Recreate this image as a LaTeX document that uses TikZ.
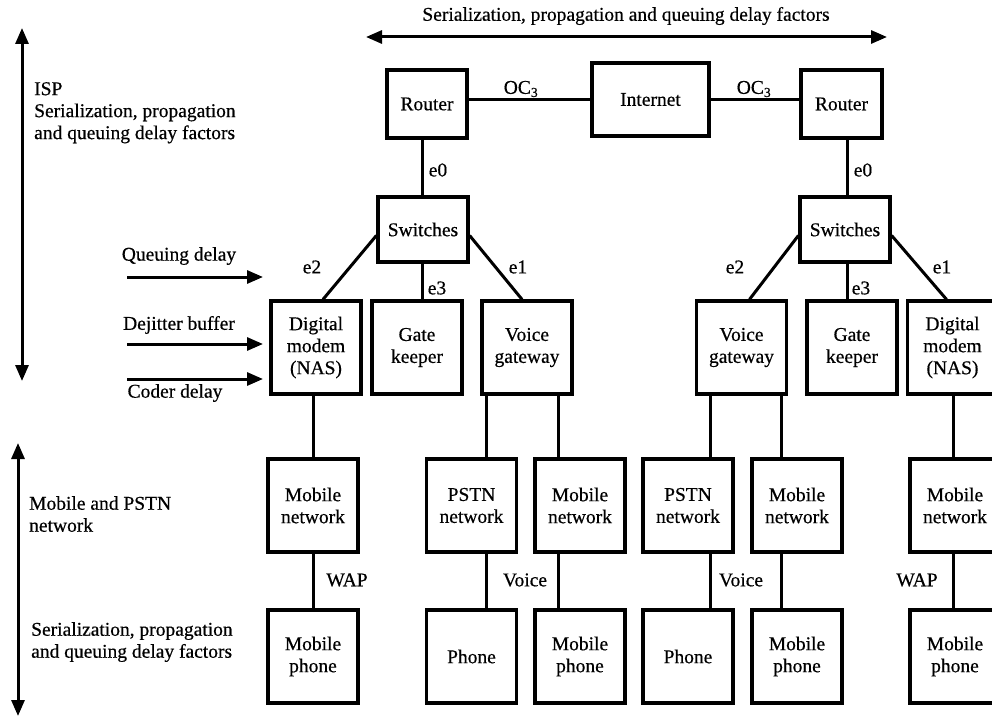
\documentclass[tikz,border=0pt]{standalone}
\usepackage{fontspec}
\setmainfont{Liberation Serif}[FakeBold=0.5]
\usetikzlibrary{arrows.meta,calc}

\tikzset{
  unit/.style={draw, line width=3.2pt, inner sep=0pt, align=center,
               minimum width=90pt, minimum height=93pt},
  link/.style={line width=3pt},
  lbl/.style={inner sep=0pt},
  flow/.style={line width=3pt, -{Triangle[length=16pt,width=13pt]}},
  span/.style={line width=3pt, {Triangle[length=16pt,width=13pt]}-{Triangle[length=16pt,width=13pt]}},
}

\begin{document}
\begin{tikzpicture}[x=1pt, y=-1pt,
  font=\fontsize{19.5}{22}\selectfont]
\useasboundingbox (0,0) rectangle (992,717);

% ---- core: routers, internet, switches
\node[unit, minimum width=80pt, minimum height=68pt] (R1) at (427,104) {Router};
\node[unit, minimum width=117pt, minimum height=73pt] (NET) at (650.5,99.5) {Internet};
\node[unit, minimum width=81pt, minimum height=68pt] (R2) at (841.5,104) {Router};
\node[unit, minimum width=90pt, minimum height=65pt] (S1) at (423,229.5) {Switches};
\node[unit, minimum width=90pt, minimum height=65pt] (S2) at (845,229.5) {Switches};

% ---- access devices
\node[unit] (DM1) at (316,347.5) {Digital\\modem\\(NAS)};
\node[unit] (GK1) at (417,347.5) {Gate\\keeper};
\node[unit] (VG1) at (527,347.5) {Voice\\gateway};
\node[unit] (VG2) at (741.5,347.5) {Voice\\gateway};
\node[unit] (GK2) at (852,347.5) {Gate\\keeper};
\node[unit] (DM2) at (952.5,347.5) {Digital\\modem\\(NAS)};

% ---- carrier networks
\node[unit] (MN1) at (313,505.5) {Mobile\\network};
\node[unit] (PN1) at (471.5,505.5) {PSTN\\network};
\node[unit] (MN2) at (580,505.5) {Mobile\\network};
\node[unit] (PN2) at (688,505.5) {PSTN\\network};
\node[unit] (MN3) at (797,505.5) {Mobile\\network};
\node[unit] (MN4) at (955,505.5) {Mobile\\network};

% ---- terminals
\node[unit] (MP1) at (313,656.5) {Mobile\\phone};
\node[unit] (PH1) at (471.5,656.5) {Phone};
\node[unit] (MP2) at (580,656.5) {Mobile\\phone};
\node[unit] (PH2) at (688,656.5) {Phone};
\node[unit] (MP3) at (797,656.5) {Mobile\\phone};
\node[unit] (MP4) at (955,656.5) {Mobile\\phone};

% ---- vertical drop positions
\coordinate (xa) at (313,0);
\coordinate (xb) at (486,0);
\coordinate (xc) at (558,0);
\coordinate (xd) at (710,0);
\coordinate (xe) at (781,0);
\coordinate (xf) at (953,0);
\coordinate (xs1) at (422,0);
\coordinate (xs2) at (847,0);

% ---- links
\draw[link] (NET.west) -- (NET.west -| R1.east);
\draw[link] (NET.east) -- (NET.east -| R2.west);
\draw[link] (R1.south -| xs1) -- (S1.north -| xs1);
\draw[link] (R2.south -| xs2) -- (S2.north -| xs2);

\draw[link] ([yshift=-6pt]S1.west) -- ([xshift=7pt]DM1.north);
\draw[link] (S1.south -| xs1) -- (GK1.north -| xs1);
\draw[link] ([yshift=-6pt]S1.east) -- ([xshift=-5pt]VG1.north);
\draw[link] ([yshift=-6pt]S2.west) -- ([xshift=8pt]VG2.north);
\draw[link] (S2.south -| xs2) -- (GK2.north -| xs2);
\draw[link] ([yshift=-6pt]S2.east) -- ([xshift=-6pt]DM2.north);

\draw[link] (DM1.south -| xa) -- (MN1.north -| xa);
\draw[link] (VG1.south -| xb) -- (PN1.north -| xb);
\draw[link] (VG1.south -| xc) -- (MN2.north -| xc);
\draw[link] (VG2.south -| xd) -- (PN2.north -| xd);
\draw[link] (VG2.south -| xe) -- (MN3.north -| xe);
\draw[link] (DM2.south -| xf) -- (MN4.north -| xf);

\draw[link] (MN1.south -| xa) -- (MP1.north -| xa);
\draw[link] (PN1.south -| xb) -- (PH1.north -| xb);
\draw[link] (MN2.south -| xc) -- (MP2.north -| xc);
\draw[link] (PN2.south -| xd) -- (PH2.north -| xd);
\draw[link] (MN3.south -| xe) -- (MP3.north -| xe);
\draw[link] (MN4.south -| xf) -- (MP4.north -| xf);

% ---- link labels
\node[lbl] (oc1) at (521,89) {OC\textsubscript{3}};
\node[lbl] (oc2) at (754,89) {OC\textsubscript{3}};
\node[lbl] (e0a) at (438,170) {e0};
\node[lbl] (e0b) at (863,170) {e0};
\node[lbl] (e2a) at (312,267) {e2};
\node[lbl] (e1a) at (518,267) {e1};
\node[lbl] (e3a) at (437,288) {e3};
\node[lbl] (e2b) at (735,267) {e2};
\node[lbl] (e3b) at (861,288) {e3};
\node[lbl] (e1b) at (942,267) {e1};
\node[lbl] (wap1) at (347,580) {WAP};
\node[lbl] (voi1) at (525,580) {Voice};
\node[lbl] (voi2) at (741,580) {Voice};
\node[lbl] (wap2) at (917,580) {WAP};

% ---- delay annotations
\node[lbl] (toptxt) at (626,16) {Serialization, propagation and queuing delay factors};
\coordinate (tl) at (366,37);
\coordinate (tr) at (887,37);
\draw[span] (tl) -- (tr);

\coordinate (v1t) at (22,28);
\coordinate (v1b) at (22,381);
\draw[span] (v1t) -- (v1b);
\node[lbl, anchor=north west, align=left] (isp) at (34,82)
  {ISP\\Serialization, propagation\\and queuing delay factors};

\coordinate (v2t) at (18,443);
\coordinate (v2b) at (18,716);
\draw[span] (v2t) -- (v2b);
\node[lbl, anchor=north west, align=left] (mob) at (29,496)
  {Mobile and PSTN\\network};
\node[lbl, anchor=north west, align=left] (ser) at (31,622)
  {Serialization, propagation\\and queuing delay factors};

\node[lbl] (qd) at (179,256) {Queuing delay};
\node[lbl] (db) at (179,325) {Dejitter buffer};
\node[lbl] (cd) at (175,393) {Coder delay};
\coordinate (qa) at (127,277);
\coordinate (qb) at (263,277);
\coordinate (da) at (127,344);
\coordinate (dbe) at (263,344);
\coordinate (ca) at (127,379);
\coordinate (cb) at (263,379);
\draw[flow] (qa) -- (qb);
\draw[flow] (da) -- (dbe);
\draw[flow] (ca) -- (cb);
\end{tikzpicture}
\end{document}
